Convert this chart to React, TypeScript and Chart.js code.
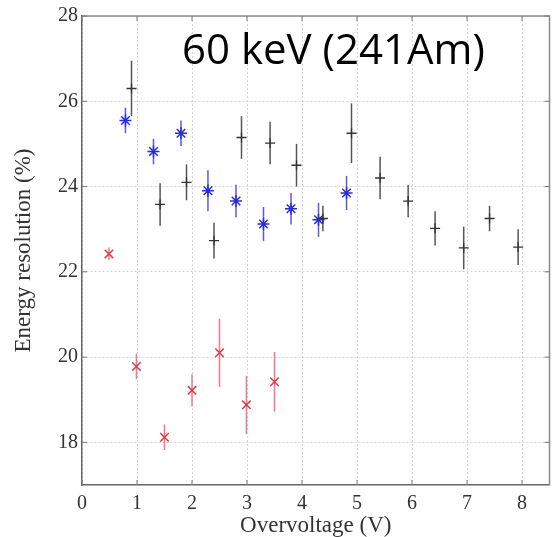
import React, { useEffect, useRef } from "react";
import { Chart, registerables } from "chart.js";
Chart.register(...registerables);

const xTicks = [0, 1, 2, 3, 4, 5, 6, 7, 8];
const yTicks = [18, 20, 22, 24, 26, 28];

const blackX = [0.9, 1.42, 1.9, 2.4, 2.9, 3.42, 3.9, 4.38, 4.9, 5.42, 5.93, 6.42, 6.94, 7.41, 7.93];
const blackY = [26.3, 23.58, 24.1, 22.73, 25.15, 25.02, 24.5, 23.25, 25.25, 24.2, 23.66, 23.02, 22.56, 23.25, 22.58];
const blackErr = [0.65, 0.5, 0.42, 0.42, 0.5, 0.5, 0.5, 0.3, 0.7, 0.5, 0.38, 0.4, 0.5, 0.3, 0.42];

const blueX = [0.79, 1.3, 1.8, 2.29, 2.8, 3.3, 3.8, 4.3, 4.81];
const blueY = [25.55, 24.82, 25.25, 23.9, 23.66, 23.12, 23.48, 23.22, 23.85];
const blueErr = [0.3, 0.3, 0.3, 0.48, 0.38, 0.4, 0.37, 0.4, 0.4];

const redX = [0.49, 0.99, 1.5, 2.0, 2.5, 2.99, 3.5];
const redY = [22.42, 19.78, 18.12, 19.22, 20.1, 18.88, 19.42];
const redErr = [0.15, 0.3, 0.3, 0.38, 0.8, 0.68, 0.7];

const titleText = "60 keV (241Am)";
const xTitle = "Overvoltage (V)";
const yTitle = "Energy resolution (%)";

const toPoints = (xs: number[], ys: number[], es: number[]) =>
  xs.map((x, i) => ({ x, y: ys[i], e: es[i] }));

const errorBarPlugin = {
  id: "errorBars",
  beforeDatasetsDraw(chart: any) {
    const { ctx, scales } = chart;
    const xs = scales.x;
    const ys = scales.y;
    chart.data.datasets.forEach((ds: any) => {
      ctx.save();
      ctx.strokeStyle = ds.errColor;
      ctx.lineWidth = 1.5;
      ds.data.forEach((p: any) => {
        const px = xs.getPixelForValue(p.x);
        ctx.beginPath();
        ctx.moveTo(px, ys.getPixelForValue(p.y - p.e));
        ctx.lineTo(px, ys.getPixelForValue(p.y + p.e));
        ctx.stroke();
      });
      ctx.restore();
    });
  },
};

const framePlugin = {
  id: "frame",
  afterDraw(chart: any) {
    const { ctx, chartArea, scales } = chart;
    const { left, right, top, bottom } = chartArea;
    ctx.save();
    ctx.strokeStyle = "#8a8a8a";
    ctx.lineWidth = 1.5;
    ctx.beginPath();
    ctx.moveTo(left, top);
    ctx.lineTo(right, top);
    ctx.lineTo(right, bottom);
    ctx.stroke();
    ctx.strokeStyle = "#777";
    ctx.lineWidth = 1;
    const tl = 5;
    xTicks.forEach((v) => {
      const px = scales.x.getPixelForValue(v);
      ctx.beginPath();
      ctx.moveTo(px, bottom);
      ctx.lineTo(px, bottom - tl);
      ctx.moveTo(px, top);
      ctx.lineTo(px, top + tl);
      ctx.stroke();
    });
    yTicks.forEach((v) => {
      const py = scales.y.getPixelForValue(v);
      ctx.beginPath();
      ctx.moveTo(left, py);
      ctx.lineTo(left + tl, py);
      ctx.moveTo(right, py);
      ctx.lineTo(right - tl, py);
      ctx.stroke();
    });
    // annotation text
    ctx.fillStyle = "#000";
    ctx.font = '42px "Open Sans"';
    ctx.textBaseline = "alphabetic";
    ctx.textAlign = "left";
    ctx.fillText(titleText, left + 100, top + 48);
    ctx.restore();
  },
};

export default function App() {
  const ref = useRef<HTMLCanvasElement>(null);
  useEffect(() => {
    const serif = '"Liberation Serif", "Times New Roman", serif';
    const chart = new Chart(ref.current!, {
      type: "scatter",
      data: {
        datasets: [
          {
            data: toPoints(blackX, blackY, blackErr),
            pointStyle: "cross",
            pointRadius: 5,
            borderColor: "#333",
            borderWidth: 1.3,
            errColor: "#555",
          } as any,
          {
            data: toPoints(blueX, blueY, blueErr),
            pointStyle: "star",
            pointRadius: 6,
            borderColor: "#2b2bd8",
            borderWidth: 1.5,
            errColor: "#5a5ae8",
          } as any,
          {
            data: toPoints(redX, redY, redErr),
            pointStyle: "crossRot",
            pointRadius: 6,
            borderColor: "#e03848",
            borderWidth: 1.5,
            errColor: "#f07a88",
          } as any,
        ],
      },
      options: {
        animation: false,
        responsive: false,
        layout: { padding: { top: 14, right: 5, left: 0, bottom: 0 } },
        plugins: { legend: { display: false }, tooltip: { enabled: false } },
        scales: {
          x: {
            type: "linear",
            min: 0,
            max: 8.5,
            afterBuildTicks: (s: any) => {
              s.ticks = xTicks.map((v) => ({ value: v }));
            },
            afterFit: (s: any) => {
              s.height = 52;
            },
            grid: { color: "#d4d4d4", drawTicks: false, lineWidth: 1, tickBorderDash: [2, 2] },
            border: { color: "#666", width: 1.5, dash: [2, 2] as any },
            ticks: { color: "#333", font: { family: serif, size: 20 }, padding: 7 },
            title: {
              display: true,
              text: xTitle,
              color: "#333",
              font: { family: serif, size: 23, lineHeight: 1 },
              padding: 0,
            },
          },
          y: {
            type: "linear",
            min: 17,
            max: 28,
            afterBuildTicks: (s: any) => {
              s.ticks = yTicks.map((v) => ({ value: v }));
            },
            afterFit: (s: any) => {
              s.width = 82;
            },
            grid: { color: "#d4d4d4", drawTicks: false, lineWidth: 1 },
            border: { color: "#666", width: 1.5, dash: [2, 2] as any },
            ticks: { color: "#333", font: { family: serif, size: 20 }, padding: 4 },
            title: {
              display: true,
              text: yTitle,
              color: "#333",
              font: { family: serif, size: 23, lineHeight: 1 },
              padding: { top: 12, bottom: 0 },
            },
          },
        },
      },
      plugins: [errorBarPlugin, framePlugin],
    });
    return () => chart.destroy();
  }, []);
  return (
    <div style={{ position: "absolute", left: 0, top: 0, width: 557, height: 537, background: "#fff" }}>
      <canvas ref={ref} width={557} height={537} />
    </div>
  );
}
